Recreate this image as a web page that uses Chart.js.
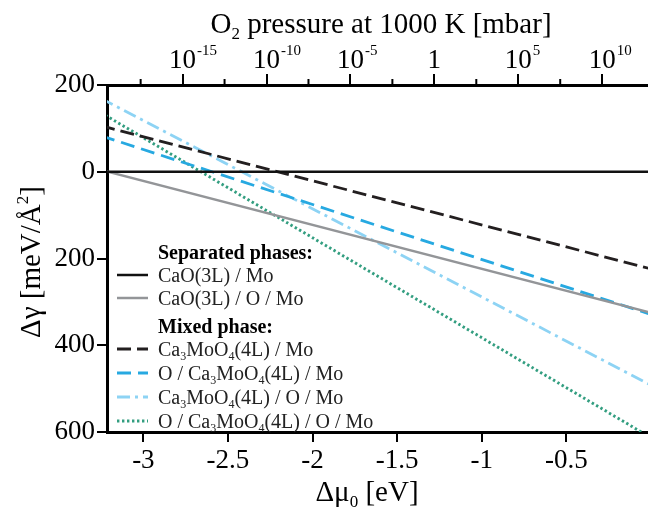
<!DOCTYPE html>
<html>
<head>
<meta charset="utf-8">
<script src="https://cdn.jsdelivr.net/npm/chart.js@4.4.0/dist/chart.umd.min.js"></script>
<style>
  html, body { margin: 0; padding: 0; background: #fff; overflow: hidden; }
  #wrap { width: 648px; height: 509px; position: relative; }
</style>
</head>
<body>
<div id="wrap"><canvas id="chart"></canvas></div>
<script>
// Data: surface free energy vs. oxygen chemical potential
const muPoints = [-3.25, 0];               // Δμ_O [eV] at the line ends
const cao3lMo = [0, 0];
const cao3lOMo = [-4, 325];
const ca3moo4Mo = [-106, 224];
const oCa3moo4Mo = [-83, 329];
const ca3moo4OMo = [-169, 492];
const oCa3moo4OMo = [-136, 613];

// Axis ticks
const muTicks = [-3, -2.5, -2, -1.5, -1, -0.5];
const gammaTicks = [-200, 0, 200, 400, 600];
const pressureExps = [-15, -10, -5, 0, 5, 10];          // log10(p / mbar)
const pressureMinorExps = [-17.5, -12.5, -7.5, -2.5, 2.5, 7.5];

// Legend names ("_x" = subscript)
const sepNames = ['CaO(3L) / Mo', 'CaO(3L) / O / Mo'];
const mixNames = ['Ca_3MoO_4(4L) / Mo', 'O / Ca_3MoO_4(4L) / Mo', 'Ca_3MoO_4(4L) / O / Mo', 'O / Ca_3MoO_4(4L) / O / Mo'];

const kT = 0.08617;       // eV at 1000 K
const muAt1mbar = -1.28;  // eV
const muFromExp = e => muAt1mbar + 0.5 * kT * Math.LN10 * e;

const serif = '"Liberation Serif", "Times New Roman", Times, serif';
const styles = [
  { color: '#111111', dash: [], width: 2.5 },
  { color: '#939598', dash: [], width: 2.5 },
  { color: '#231f20', dash: [14, 6], width: 2.8 },
  { color: '#27a9e1', dash: [14, 7], width: 2.8 },
  { color: '#8dd3f4', dash: [13, 5, 3, 5], width: 2.8 },
  { color: '#339e80', dash: [2.4, 2.6], width: 2.9 }
];

const subDigits = '₀₁₂₃₄₅₆₇₈₉';
const toUnicode = s => s.replace(/_(\d)/g, (m, d) => subDigits[+d]);

function pts(vals) {
  return muPoints.map((x, i) => ({ x: x, y: vals[i] }));
}

const series = [cao3lMo, cao3lOMo, ca3moo4Mo, oCa3moo4Mo, ca3moo4OMo, oCa3moo4OMo];
const names = sepNames.concat(mixNames);

const datasets = series.map((vals, i) => ({
  label: toUnicode(names[i]),
  data: pts(vals),
  borderColor: styles[i].color,
  borderDash: styles[i].dash,
  borderWidth: styles[i].width,
  pointRadius: 0,
  fill: false,
  tension: 0
}));

// split "a_2b^{-15}" into plain / sub / sup pieces
function segs(str) {
  const out = [];
  let i = 0;
  while (i < str.length) {
    const c = str[i];
    if (c === '_' || c === '^') {
      let t;
      if (str[i + 1] === '{') {
        const j = str.indexOf('}', i);
        t = str.slice(i + 2, j);
        i = j + 1;
      } else {
        t = str[i + 1];
        i += 2;
      }
      out.push({ t: t, k: c });
    } else {
      let j = i;
      while (j < str.length && str[j] !== '_' && str[j] !== '^') j++;
      out.push({ t: str.slice(i, j), k: '' });
      i = j;
    }
  }
  return out;
}

function drawRich(ctx, str, x, y, size, align, weight) {
  const parts = segs(str);
  const w = weight || 'normal';
  const fontFor = k => w + ' ' + (k ? Math.round(size * 0.6) : size) + 'px ' + serif;
  let total = 0;
  parts.forEach(p => { ctx.font = fontFor(p.k); p.w = ctx.measureText(p.t).width; total += p.w; });
  let cx = x;
  if (align === 'center') cx = x - total / 2;
  else if (align === 'right') cx = x - total;
  ctx.textAlign = 'left';
  ctx.textBaseline = 'alphabetic';
  parts.forEach(p => {
    ctx.font = fontFor(p.k);
    const dy = p.k === '_' ? size * 0.2 : (p.k === '^' ? -size * 0.42 : 0);
    ctx.fillText(p.t, cx, y + dy);
    cx += p.w;
  });
}

const overlay = {
  id: 'overlay',
  afterDraw(chart) {
    const ctx = chart.ctx;
    const area = chart.chartArea;
    const top = chart.scales.x2;
    ctx.save();
    ctx.fillStyle = '#000';
    ctx.strokeStyle = '#000';

    // minor ticks of the pressure axis
    ctx.lineWidth = 2;
    pressureMinorExps.forEach(e => {
      const px = top.getPixelForValue(muFromExp(e));
      if (px < area.left || px > area.right) return;
      ctx.beginPath();
      ctx.moveTo(px, area.top);
      ctx.lineTo(px, area.top - 6);
      ctx.stroke();
    });

    // pressure tick labels
    pressureExps.forEach(e => {
      const px = top.getPixelForValue(muFromExp(e));
      ctx.textBaseline = 'alphabetic';
      ctx.font = '27px ' + serif;
      ctx.textAlign = 'center';
      if (e === 0) {
        ctx.fillText('1', px, 68);
      } else {
        ctx.fillText('10', px, 68);
        const w = ctx.measureText('10').width;
        ctx.font = '15px ' + serif;
        ctx.textAlign = 'left';
        ctx.fillText(String(e), px + w / 2 + 1, 55);
      }
    });

    // axis titles
    drawRich(ctx, 'O_2 pressure at 1000 K [mbar]', 381, 33, 29, 'center');
    drawRich(ctx, 'Δμ_0 [eV]', 367, 501, 29, 'center');
    ctx.save();
    ctx.translate(40, 262);
    ctx.rotate(-Math.PI / 2);
    drawRich(ctx, 'Δγ [meV/Å^2]', 0, 0, 29, 'center');
    ctx.restore();

    // legend
    const rows = [
      { head: 'Separated phases:', y: 259 },
      { idx: 0, y: 282 },
      { idx: 1, y: 305 },
      { head: 'Mixed phase:', y: 333 },
      { idx: 2, y: 356 },
      { idx: 3, y: 380 },
      { idx: 4, y: 404 },
      { idx: 5, y: 428 }
    ];
    rows.forEach(r => {
      if (r.head) {
        ctx.fillStyle = '#000';
        drawRich(ctx, r.head, 158, r.y, 20, 'left', 'bold');
        return;
      }
      const st = styles[r.idx];
      ctx.save();
      ctx.strokeStyle = st.color;
      ctx.lineWidth = st.width;
      ctx.setLineDash(st.dash);
      ctx.beginPath();
      ctx.moveTo(117, r.y - 7);
      ctx.lineTo(148, r.y - 7);
      ctx.stroke();
      ctx.restore();
      ctx.fillStyle = '#222';
      drawRich(ctx, names[r.idx], 158, r.y, 20, 'left');
    });
    ctx.restore();
  }
};

const axisGrid = {
  drawOnChartArea: false,
  drawTicks: true,
  tickLength: 10,
  color: '#000',
  lineWidth: 2
};
const axisBorder = { display: true, color: '#000', width: 3 };

new Chart(document.getElementById('chart').getContext('2d'), {
  type: 'line',
  data: { datasets: datasets },
  options: {
    responsive: true,
    maintainAspectRatio: false,
    devicePixelRatio: 1,
    animation: false,
    layout: { padding: 0 },
    plugins: {
      legend: { display: false },
      tooltip: { enabled: false }
    },
    scales: {
      x: {
        type: 'linear',
        position: 'bottom',
        min: -3.215,
        max: -0.017,
        afterBuildTicks: s => { s.ticks = muTicks.map(v => ({ value: v })); },
        afterFit: s => { s.height = 77; },
        border: axisBorder,
        grid: axisGrid,
        ticks: {
          color: '#000',
          font: { family: serif, size: 27 },
          padding: 3,
          maxRotation: 0,
          autoSkip: false,
          callback: v => String(v)
        }
      },
      x2: {
        type: 'linear',
        position: 'top',
        min: -3.215,
        max: -0.017,
        afterBuildTicks: s => { s.ticks = pressureExps.map(e => ({ value: muFromExp(e) })); },
        afterFit: s => { s.height = 85; },
        border: axisBorder,
        grid: Object.assign({}, axisGrid, { tickLength: 11 }),
        ticks: { display: false }
      },
      y: {
        type: 'linear',
        reverse: true,
        min: -200,
        max: 600,
        afterBuildTicks: s => { s.ticks = gammaTicks.map(v => ({ value: v })); },
        afterFit: s => { s.width = 107; },
        border: axisBorder,
        grid: axisGrid,
        ticks: {
          color: '#000',
          font: { family: serif, size: 27 },
          padding: 2,
          callback: v => String(Math.abs(v))
        }
      }
    }
  },
  plugins: [overlay]
});
</script>
</body>
</html>
